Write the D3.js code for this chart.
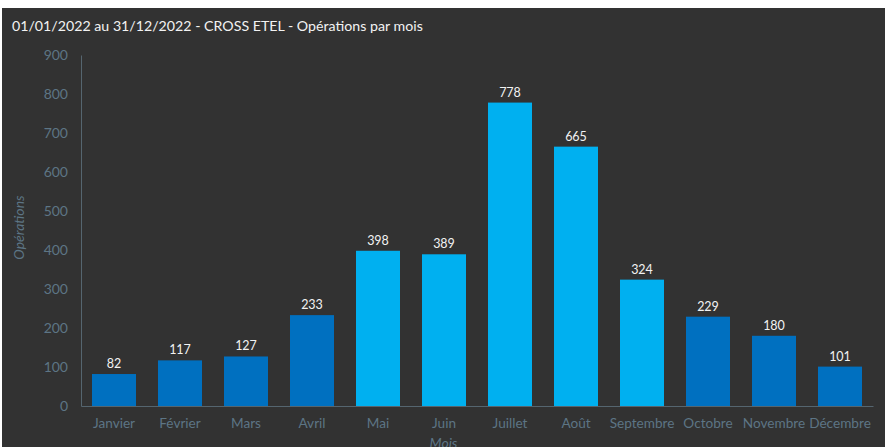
<!DOCTYPE html>
<html>
<head>
<meta charset="utf-8">
<script src="https://cdn.jsdelivr.net/npm/d3@7"></script>
<style>
  html, body { margin: 0; padding: 0; background: #ffffff; }
  svg { display: block; }
</style>
</head>
<body>
<svg id="chart" width="887" height="447"></svg>
<script>
// Monthly operations, CROSS ETEL, 2022
const months = ["Janvier", "Février", "Mars", "Avril", "Mai", "Juin", "Juillet", "Août", "Septembre", "Octobre", "Novembre", "Décembre"];
const operations = [82, 117, 127, 233, 398, 389, 778, 665, 324, 229, 180, 101];
const summerMonths = ["Mai", "Juin", "Juillet", "Août", "Septembre"];
const yTicks = [0, 100, 200, 300, 400, 500, 600, 700, 800, 900];

const W = 887, H = 447;
const FONT = "Lato, 'Open Sans', 'Liberation Sans', sans-serif";
const TICK_COLOR = "#5d7585";

const svg = d3.select("#chart");

svg.append("rect")
  .attr("x", 2).attr("y", 8)
  .attr("width", W - 4).attr("height", H - 8)
  .attr("fill", "#323232");

svg.append("text")
  .attr("x", 12).attr("y", 31)
  .attr("fill", "#f2f2f2")
  .style("font-family", FONT)
  .style("font-size", "14.2px")
  .text("01/01/2022 au 31/12/2022 - CROSS ETEL - Opérations par mois");

const plot = { left: 81, right: 873, top: 55, bottom: 406 };

const x = d3.scaleBand()
  .domain(months)
  .range([plot.left, plot.right])
  .paddingInner(1 / 3)
  .paddingOuter(1 / 6);

const y = d3.scaleLinear()
  .domain([0, 900])
  .range([plot.bottom, plot.top]);

// Y axis
const yAxis = svg.append("g")
  .attr("transform", `translate(${plot.left},0)`)
  .call(d3.axisLeft(y).tickValues(yTicks).tickSize(0).tickPadding(13));
yAxis.select(".domain").attr("stroke", "#55656f").attr("stroke-width", 1);
yAxis.selectAll("text")
  .attr("fill", TICK_COLOR)
  .style("font-family", FONT)
  .style("font-size", "14px");

// X axis
const xAxis = svg.append("g")
  .attr("transform", `translate(0,${plot.bottom})`)
  .call(d3.axisBottom(x).tickSize(0).tickPadding(12));
xAxis.select(".domain").attr("stroke", "#55656f").attr("stroke-width", 1);
xAxis.selectAll("text")
  .attr("fill", TICK_COLOR)
  .style("font-family", FONT)
  .style("font-size", "13.6px");

// Bars
svg.append("g").selectAll("rect")
  .data(months)
  .join("rect")
  .attr("x", d => x(d))
  .attr("width", x.bandwidth())
  .attr("y", (d, i) => y(operations[i]))
  .attr("height", (d, i) => y(0) - y(operations[i]))
  .attr("fill", d => summerMonths.includes(d) ? "#00b0f0" : "#0070c0");

// Value labels
svg.append("g").selectAll("text")
  .data(months)
  .join("text")
  .attr("x", d => x(d) + x.bandwidth() / 2)
  .attr("y", (d, i) => y(operations[i]) - 6)
  .attr("text-anchor", "middle")
  .attr("fill", "#f2f2f2")
  .style("font-family", FONT)
  .style("font-size", "12.5px")
  .text((d, i) => operations[i]);

// Axis titles
svg.append("text")
  .attr("transform", `translate(24,${(plot.top + plot.bottom) / 2 - 3}) rotate(-90)`)
  .attr("text-anchor", "middle")
  .attr("fill", TICK_COLOR)
  .style("font-family", FONT)
  .style("font-style", "italic")
  .style("font-size", "14px")
  .text("Opérations");

svg.append("text")
  .attr("x", W / 2)
  .attr("y", 448)
  .attr("text-anchor", "middle")
  .attr("fill", TICK_COLOR)
  .style("font-family", FONT)
  .style("font-style", "italic")
  .style("font-size", "14px")
  .text("Mois");
</script>
</body>
</html>
